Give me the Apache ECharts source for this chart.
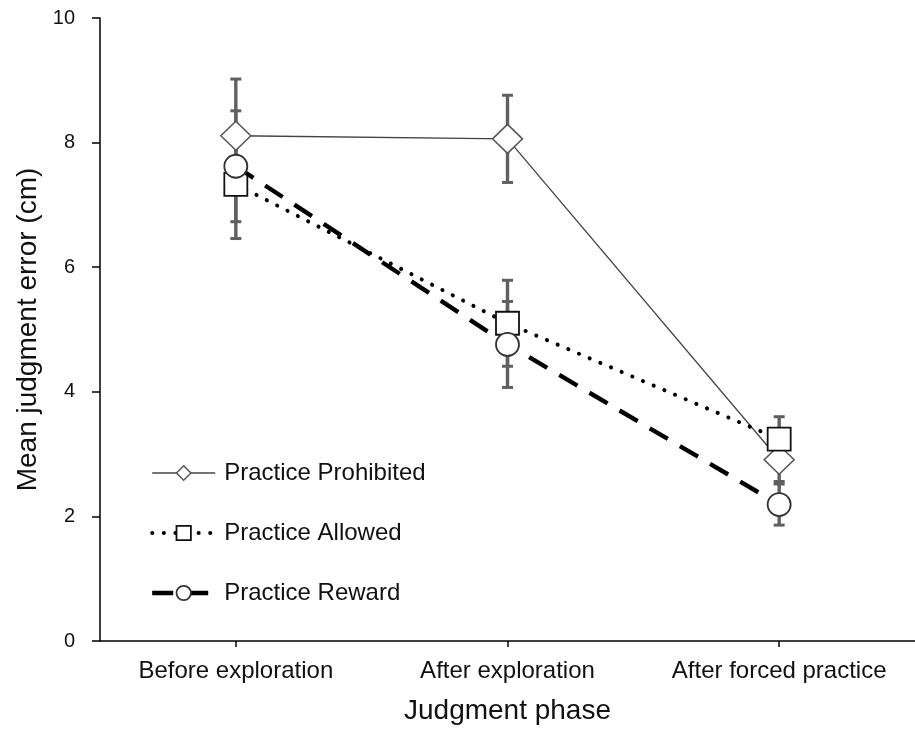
<!DOCTYPE html>
<html>
<head>
<meta charset="utf-8">
<script src="https://cdn.jsdelivr.net/npm/echarts@6/dist/echarts.min.js"></script>
<style>
  html, body { margin: 0; padding: 0; background: #ffffff; }
  #chart { width: 915px; height: 730px; }
</style>
</head>
<body>
<div id="chart"></div>
<script>
const categories = ['Before exploration', 'After exploration', 'After forced practice'];
const yTicks = [0, 2, 4, 6, 8, 10];

const seriesNames = ['Practice Prohibited', 'Practice Allowed', 'Practice Reward'];
const prohibitedMean = [8.11, 8.06, 2.91];
const prohibitedErr  = [0.91, 0.70, 0.35];
const allowedMean    = [7.33, 5.10, 3.24];
const allowedErr     = [0.87, 0.69, 0.36];
const rewardMean     = [7.62, 4.76, 2.19];
const rewardErr      = [0.89, 0.69, 0.33];

const FONT = 'Liberation Sans, Arial, sans-serif';
const TEXT = '#111111';
const ERR_COLOR = '#606060';

const styles = {
  prohibited: {
    symbol: 'diamond',
    line: { color: '#444444', width: 1.3, type: 'solid' },
    item: { color: '#ffffff', borderColor: '#555555', borderWidth: 1.5 }
  },
  allowed: {
    symbol: 'rect',
    line: { color: '#000000', width: 4, type: [0.1, 11.5], cap: 'round' },
    item: { color: '#ffffff', borderColor: '#111111', borderWidth: 1.8 }
  },
  reward: {
    symbol: 'circle',
    line: { color: '#000000', width: 4.4, type: [21, 14], cap: 'butt' },
    item: { color: '#ffffff', borderColor: '#333333', borderWidth: 1.8 }
  }
};

function errData(mean, err) {
  return categories.map((c, i) => [i, mean[i], err[i]]);
}

function renderErr(params, api) {
  const x = api.value(0), m = api.value(1), e = api.value(2);
  const top = api.coord([x, m + e]);
  const bot = api.coord([x, m - e]);
  const hw = 5.5;
  const st = { stroke: ERR_COLOR, lineWidth: 3.4 };
  return {
    type: 'group',
    children: [
      { type: 'line', shape: { x1: top[0], y1: top[1], x2: bot[0], y2: bot[1] }, style: st },
      { type: 'line', shape: { x1: top[0] - hw, y1: top[1], x2: top[0] + hw, y2: top[1] }, style: { stroke: ERR_COLOR, lineWidth: 3 } },
      { type: 'line', shape: { x1: bot[0] - hw, y1: bot[1], x2: bot[0] + hw, y2: bot[1] }, style: { stroke: ERR_COLOR, lineWidth: 3 } }
    ]
  };
}

function errSeries(name, mean, err) {
  return {
    name: name + ' err',
    type: 'custom',
    renderItem: renderErr,
    data: errData(mean, err),
    z: 1,
    silent: true,
    animation: false
  };
}

function legendItem(name, st) {
  return {
    name: name,
    lineStyle: Object.assign({}, st.line),
    itemStyle: Object.assign({}, st.item)
  };
}

const chart = echarts.init(document.getElementById('chart'), null, { renderer: 'canvas' });

chart.setOption({
  animation: false,
  backgroundColor: '#ffffff',
  textStyle: { fontFamily: FONT, color: TEXT },
  grid: { left: 100, right: -6, top: 18, bottom: 87, containLabel: false },
  legend: {
    data: [
      legendItem(seriesNames[0], styles.prohibited),
      legendItem(seriesNames[1], styles.allowed),
      legendItem(seriesNames[2], styles.reward)
    ],
    orient: 'vertical',
    left: 145,
    top: 456,
    itemWidth: 63,
    itemHeight: 18,
    itemGap: 36,
    textStyle: { fontFamily: FONT, fontSize: 24, color: TEXT, padding: [0, 0, 0, 4] },
    selectedMode: false
  },
  xAxis: {
    type: 'category',
    data: categories,
    boundaryGap: true,
    name: 'Judgment phase',
    nameLocation: 'middle',
    nameGap: 56,
    nameTextStyle: { fontFamily: FONT, fontSize: 28, color: TEXT },
    axisLine: { show: true, lineStyle: { color: '#000', width: 1.5 } },
    axisTick: { show: true, alignWithLabel: true, length: 6, lineStyle: { color: '#000', width: 1.5 } },
    axisLabel: { fontFamily: FONT, fontSize: 24, color: TEXT, margin: 18, interval: 0 },
    splitLine: { show: false }
  },
  yAxis: {
    type: 'value',
    min: yTicks[0],
    max: yTicks[yTicks.length - 1],
    interval: 2,
    name: 'Mean judgment error (cm)',
    nameLocation: 'middle',
    nameGap: 57,
    nameTextStyle: { fontFamily: FONT, fontSize: 28, color: TEXT },
    axisLine: { show: true, lineStyle: { color: '#000', width: 1.5 } },
    axisTick: { show: true, length: 8, lineStyle: { color: '#000', width: 1.5 } },
    axisLabel: { fontFamily: FONT, fontSize: 20, color: TEXT, margin: 25 },
    splitLine: { show: false }
  },
  series: [
    errSeries(seriesNames[0], prohibitedMean, prohibitedErr),
    errSeries(seriesNames[1], allowedMean, allowedErr),
    errSeries(seriesNames[2], rewardMean, rewardErr),
    {
      name: seriesNames[0],
      type: 'line',
      data: prohibitedMean,
      z: 3,
      symbol: styles.prohibited.symbol,
      symbolSize: [30, 29],
      showAllSymbol: true,
      lineStyle: styles.prohibited.line,
      itemStyle: styles.prohibited.item
    },
    {
      name: seriesNames[1],
      type: 'line',
      data: allowedMean,
      z: 4,
      symbol: styles.allowed.symbol,
      symbolSize: 23,
      showAllSymbol: true,
      lineStyle: styles.allowed.line,
      itemStyle: styles.allowed.item
    },
    {
      name: seriesNames[2],
      type: 'line',
      data: rewardMean,
      z: 5,
      symbol: styles.reward.symbol,
      symbolSize: 23,
      showAllSymbol: true,
      lineStyle: styles.reward.line,
      itemStyle: styles.reward.item
    }
  ]
});
</script>
</body>
</html>
